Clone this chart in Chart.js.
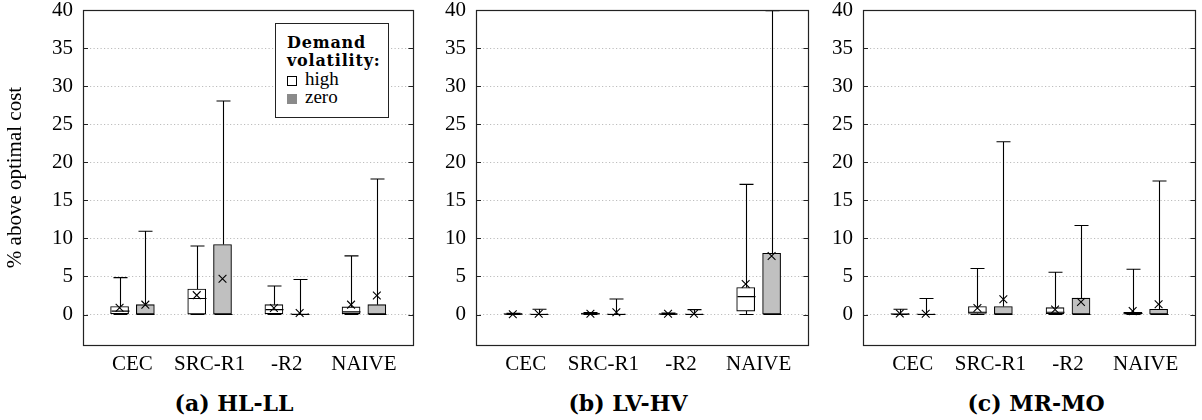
<!DOCTYPE html>
<html>
<head>
<meta charset="utf-8">
<script src="https://cdn.jsdelivr.net/npm/chart.js@4/dist/chart.umd.min.js"></script>
<style>
  body { margin: 0; background: #fff; width: 1202px; height: 420px; position: relative; overflow: hidden; }
  canvas { position: absolute; top: 0; }
  .caption { position: absolute; top: 392px; font: bold 22px "DejaVu Serif", "Liberation Serif", serif; line-height: 22px;
             transform: translateX(-50%); white-space: nowrap; color: #000; }
  .legend { position: absolute; left: 275px; top: 23px; width: 112px; height: 93px; border: 1px solid #222;
            background: #fff; box-sizing: content-box; color: #000; }
  .legend .inner { padding: 10px 0 0 11px; line-height: 18px; }
  .legend b { display: block; font: bold 16px "DejaVu Serif", "Liberation Serif", serif; line-height: 18px; letter-spacing: 0.8px; }
  .legend .item { font: 19px "Liberation Serif", serif; line-height: 18px; }
  .legend .sw { display: inline-block; margin-right: 8px; vertical-align: -1px; }
</style>
</head>
<body>
<canvas id="chartA" width="420" height="385" style="left:0px"></canvas>
<canvas id="chartB" width="395" height="385" style="left:420px"></canvas>
<canvas id="chartC" width="387" height="385" style="left:815px"></canvas>

<div class="legend"><div class="inner">
  <b>Demand</b><b>volatility:</b>
  <div class="item"><span class="sw" style="border:1px solid #000;background:#fff;width:8px;height:8px"></span>high</div>
  <div class="item"><span class="sw" style="background:#8a8a8a;width:10px;height:10px"></span>zero</div>
</div></div>

<div class="caption" style="left:234px">(a) HL-LL</div>
<div class="caption" style="left:628px">(b) LV-HV</div>
<div class="caption" style="left:1036px">(c) MR-MO</div>

<script>
const categories = ['CEC', 'SRC-R1', '-R2', 'NAIVE'];
const yTickValues = [0, 5, 10, 15, 20, 25, 30, 35, 40];

// (a) HL-LL
const aHighMin  = [0, 0, 0, 0];
const aHighQ1   = [0.1, 0, 0.1, 0.1];
const aHighMed  = [0.45, 2.1, 0.65, 0.35];
const aHighQ3   = [1.05, 3.35, 1.3, 1.0];
const aHighMax  = [4.85, 9.0, 3.75, 7.7];
const aHighMean = [0.9, 2.55, 0.85, 1.3];
const aZeroMin  = [0, 0, 0, 0];
const aZeroQ1   = [0, 0, 0, 0];
const aZeroMed  = [0, 0, 0, 0];
const aZeroQ3   = [1.3, 9.2, 0.12, 1.3];
const aZeroMax  = [10.95, 28.05, 4.6, 17.8];
const aZeroMean = [1.3, 4.7, 0.2, 2.5];

// (b) LV-HV
const bHighMin  = [0, 0, 0, 0];
const bHighQ1   = [0, 0, 0, 0.45];
const bHighMed  = [0.05, 0.1, 0.05, 2.35];
const bHighQ3   = [0.12, 0.2, 0.12, 3.55];
const bHighMax  = [0.15, 0.25, 0.2, 17.1];
const bHighMean = [0.05, 0.1, 0.1, 4.0];
const bZeroMin  = [0, 0, 0, 0];
const bZeroQ1   = [0, 0, 0, 0];
const bZeroMed  = [0, 0, 0, 0];
const bZeroQ3   = [0.08, 0.08, 0.08, 8.05];
const bZeroMax  = [0.7, 2.05, 0.65, 39.9];
const bZeroMean = [0.1, 0.3, 0.1, 7.7];

// (c) MR-MO
const cHighMin  = [0, 0, 0, 0];
const cHighQ1   = [0, 0.15, 0.1, 0.05];
const cHighMed  = [0.05, 0.3, 0.3, 0.15];
const cHighQ3   = [0.12, 1.05, 0.9, 0.3];
const cHighMax  = [0.7, 6.05, 5.55, 5.95];
const cHighMean = [0.15, 0.85, 0.65, 0.45];
const cZeroMin  = [0, 0, 0, 0];
const cZeroQ1   = [0, 0, 0, 0];
const cZeroMed  = [0, 0, 0, 0];
const cZeroQ3   = [0.08, 1.05, 2.15, 0.7];
const cZeroMax  = [2.1, 22.7, 11.7, 17.55];
const cZeroMean = [0.1, 2.0, 1.65, 1.35];

const BOX_W = 18;     // px
const CAP_W = 14;     // px
const SHIFT = 0.167;  // category units between group centre and box centre

const stats = (min, q1, med, q3, max, mean) => ({ min, q1, med, q3, max, mean });

const panels = [
    { id: 'chartA', axisWidth: 83, padRight: 3, yTitle: true,
      high: stats(aHighMin, aHighQ1, aHighMed, aHighQ3, aHighMax, aHighMean),
      zero: stats(aZeroMin, aZeroQ1, aZeroMed, aZeroQ3, aZeroMax, aZeroMean) },
    { id: 'chartB', axisWidth: 56, padRight: 5, yTitle: false,
      high: stats(bHighMin, bHighQ1, bHighMed, bHighQ3, bHighMax, bHighMean),
      zero: stats(bZeroMin, bZeroQ1, bZeroMed, bZeroQ3, bZeroMax, bZeroMean) },
    { id: 'chartC', axisWidth: 48, padRight: 5, yTitle: false,
      high: stats(cHighMin, cHighQ1, cHighMed, cHighQ3, cHighMax, cHighMean),
      zero: stats(cZeroMin, cZeroQ1, cZeroMed, cZeroQ3, cZeroMax, cZeroMean) }
];

Chart.defaults.font.family = "'Liberation Serif', serif";
Chart.defaults.font.size = 21;
Chart.defaults.color = '#000';

// --- whiskers, medians, frame ---
const boxExtras = {
    id: 'boxExtras',
    afterDatasetDraw(chart, args) {
        const ds = chart.data.datasets[args.index];
        if (!ds.stats) return;
        const { x, y } = chart.scales;
        const ctx = chart.ctx;
        const s = ds.stats;
        ctx.save();
        ctx.strokeStyle = '#000';
        ctx.lineWidth = 1.1;
        ds.data.forEach((d, i) => {
            const cx = Math.round(x.getPixelForValue(d.x)) + 0.5;
            const yMax = y.getPixelForValue(s.max[i]);
            const yMin = y.getPixelForValue(s.min[i]);
            const yQ1 = y.getPixelForValue(s.q1[i]);
            const yQ3 = y.getPixelForValue(s.q3[i]);
            const yMed = y.getPixelForValue(s.med[i]);
            ctx.beginPath();
            ctx.moveTo(cx, yQ3); ctx.lineTo(cx, yMax);
            ctx.moveTo(cx - CAP_W / 2, yMax); ctx.lineTo(cx + CAP_W / 2, yMax);
            ctx.moveTo(cx, yQ1); ctx.lineTo(cx, yMin);
            ctx.moveTo(cx - CAP_W / 2, yMin); ctx.lineTo(cx + CAP_W / 2, yMin);
            ctx.moveTo(cx - BOX_W / 2, yMed); ctx.lineTo(cx + BOX_W / 2, yMed);
            ctx.stroke();
        });
        ctx.restore();
    },
    afterDraw(chart) {
        const { ctx, chartArea: a, scales: { y } } = chart;
        ctx.save();
        ctx.strokeStyle = '#222';
        ctx.lineWidth = 1.2;
        ctx.beginPath();
        yTickValues.forEach(v => {
            const py = Math.round(y.getPixelForValue(v)) + 0.5;
            ctx.moveTo(a.left, py); ctx.lineTo(a.left + 5, py);
            ctx.moveTo(a.right - 5, py); ctx.lineTo(a.right, py);
        });
        ctx.stroke();
        ctx.strokeRect(Math.round(a.left) + 0.5, Math.round(a.top) + 0.5,
                       Math.round(a.right - a.left), Math.round(a.bottom - a.top));
        ctx.restore();
    }
};

function boxDataset(label, s, shift, fill) {
    return {
        type: 'bar', label, stats: s,
        data: categories.map((c, i) => ({ x: i + 1 + shift, y: [s.q1[i], s.q3[i]] })),
        backgroundColor: fill, borderColor: '#000', borderWidth: 1.1, borderSkipped: false,
        barThickness: BOX_W, maxBarThickness: BOX_W, grouped: false, order: 2
    };
}

function meanDataset(s, shift) {
    return {
        type: 'scatter',
        data: categories.map((c, i) => ({ x: i + 1 + shift, y: s.mean[i] })),
        pointStyle: 'crossRot', radius: 5.5, borderColor: '#000', backgroundColor: '#000',
        borderWidth: 1.1, order: 0
    };
}

function drawCharts() {
    panels.forEach(p => {
        new Chart(document.getElementById(p.id), {
            type: 'bar',
            data: {
                datasets: [
                    boxDataset('high', p.high, -SHIFT, '#ffffff'),
                    boxDataset('zero', p.zero, SHIFT, '#c0c0c0'),
                    meanDataset(p.high, -SHIFT),
                    meanDataset(p.zero, SHIFT)
                ]
            },
            options: {
                responsive: false, animation: false, devicePixelRatio: 1,
                layout: { padding: { top: 10, right: p.padRight, bottom: 0, left: 0 } },
                plugins: { legend: { display: false }, tooltip: { enabled: false } },
                scales: {
                    x: {
                        type: 'linear', min: 0.359, max: 4.641, offset: false,
                        grid: { display: false, offset: false, drawTicks: false }, border: { display: false },
                        afterBuildTicks: s => { s.ticks = categories.map((c, i) => ({ value: i + 1 })); },
                        afterFit: s => { s.height = 40; },
                        ticks: { padding: 7, maxRotation: 0, autoSkip: false,
                                 callback: v => categories[v - 1] }
                    },
                    y: {
                        type: 'linear', min: -4, max: 40,
                        grid: { color: '#bdbdbd', lineWidth: 1, drawTicks: false },
                        border: { display: false, dash: [1.2, 2.3] },
                        afterBuildTicks: s => { s.ticks = yTickValues.map(v => ({ value: v })); },
                        afterFit: s => { s.width = p.axisWidth; s.paddingTop = 0; s.paddingBottom = 0; },
                        ticks: { padding: 10 },
                        title: { display: p.yTitle, text: '% above optimal cost', padding: { top: 3, bottom: 0 } }
                    }
                }
            },
            plugins: [boxExtras]
        });
    });
}

document.fonts.load("21px 'Liberation Serif'").then(drawCharts, drawCharts);
</script>
</body>
</html>
